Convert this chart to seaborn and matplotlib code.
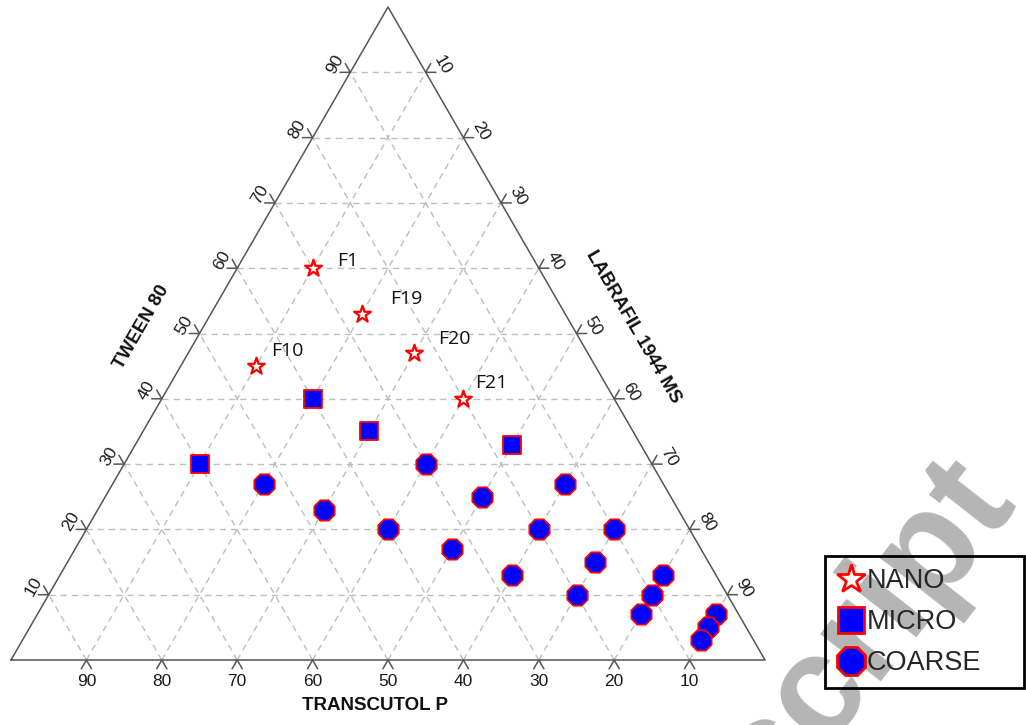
import numpy as np
import pandas as pd
import matplotlib
matplotlib.use("Agg")
import matplotlib.pyplot as plt
import seaborn as sns
from matplotlib.lines import Line2D

# ---- compositions (% w/w); Transcutol P is the remainder to 100 ----
nano_names = ["F1", "F19", "F20", "F10", "F21"]
nano_tween = [60, 53, 47, 45, 40]
nano_labrafil = [10, 20, 30, 10, 40]

micro_tween = [30, 40, 35, 33]
micro_labrafil = [10, 20, 30, 50]

coarse_tween = [27, 23, 20, 30, 25, 17, 20, 13, 27, 20, 15, 10, 13, 10, 7, 7, 5, 3]
coarse_labrafil = [20, 30, 40, 40, 50, 50, 60, 60, 60, 70, 70, 70, 80, 80, 80, 90, 90, 90]

grid_values = [10, 20, 30, 40, 50, 60, 70, 80, 90]
group_names = ["NANO", "MICRO", "COARSE"]

H = np.sqrt(3) / 2


def to_xy(tween, labrafil):
    t = np.asarray(tween, dtype=float)
    l = np.asarray(labrafil, dtype=float)
    return l + t / 2.0, t * H


frames = []
for name, tw, lb in [("NANO", nano_tween, nano_labrafil),
                     ("MICRO", micro_tween, micro_labrafil),
                     ("COARSE", coarse_tween, coarse_labrafil)]:
    x, y = to_xy(tw, lb)
    frames.append(pd.DataFrame({"x": x, "y": y, "group": name,
                                "tween": tw, "labrafil": lb}))
df = pd.concat(frames, ignore_index=True)
df["transcutol"] = 100 - df["tween"] - df["labrafil"]

# ---- figure: one unit of composition = PX pixels ----
W, HT, DPI = 1026, 725, 100
PX = 7.54
OX, OY = 11, 660
sns.set_theme(style="white")
plt.rcParams["font.family"] = ["Liberation Sans", "DejaVu Sans"]

fig = plt.figure(figsize=(W / DPI, HT / DPI), dpi=DPI)
fig.patch.set_facecolor("white")
ax = fig.add_axes([0, 0, 1, 1])
ax.set_xlim(-OX / PX, (W - OX) / PX)
ax.set_ylim(-(HT - OY) / PX, OY / PX)
ax.axis("off")


def p(dx_px, dy_px):
    """pixel offset (y downward) -> data offset"""
    return dx_px / PX, -dy_px / PX


grid_kw = dict(color="#bdbdbd", lw=1.0, ls=(0, (4.5, 3.5)), zorder=1)
edge_kw = dict(color="#555555", lw=1.1, zorder=2)
tick_len = 1.35

for v in grid_values:
    # constant Tween 80 (horizontal)
    xa, ya = to_xy(v, 0)
    xb, yb = to_xy(v, 100 - v)
    ax.plot([xa, xb], [ya, yb], **grid_kw)
    # constant Labrafil
    xa, ya = to_xy(0, v)
    xb, yb = to_xy(100 - v, v)
    ax.plot([xa, xb], [ya, yb], **grid_kw)
    # constant Transcutol
    xa, ya = to_xy(0, 100 - v)
    xb, yb = to_xy(100 - v, 0)
    ax.plot([xa, xb], [ya, yb], **grid_kw)

# triangle outline
corners_x, corners_y = to_xy([0, 0, 100, 0], [0, 100, 0, 0])
ax.plot(corners_x, corners_y, **edge_kw)

tick_fs = 12.5
for v in grid_values:
    # bottom axis: Transcutol P
    bx, by = to_xy(0, 100 - v)
    ax.plot([bx - tick_len * 0.5, bx, bx + tick_len * 0.5],
            [by - tick_len * H, by, by - tick_len * H], **edge_kw)
    dx, dy = p(0, 21)
    ax.text(bx + dx, by + dy, f"{v}", ha="center", va="center",
            fontsize=tick_fs, color="#1a1a1a")
    # left axis: Tween 80
    lx, ly = to_xy(v, 0)
    ax.plot([lx - tick_len, lx, lx - tick_len * 0.5],
            [ly, ly, ly + tick_len * H], **edge_kw)
    dx, dy = p(-15, -8)
    ax.text(lx + dx, ly + dy, f"{v}", ha="center", va="center",
            fontsize=tick_fs, rotation=60, color="#1a1a1a")
    # right axis: Labrafil 1944 MS
    rx, ry = to_xy(100 - v, v)
    ax.plot([rx + tick_len, rx, rx + tick_len * 0.5],
            [ry, ry, ry + tick_len * H], **edge_kw)
    dx, dy = p(17, -7)
    ax.text(rx + dx, ry + dy, f"{v}", ha="center", va="center",
            fontsize=tick_fs, rotation=-60, color="#1a1a1a")

# axis titles
title_kw = dict(fontsize=13.5, fontweight="bold", color="#111111",
                ha="center", va="center")
ax.text((142 - OX) / PX, (OY - 327) / PX, "TWEEN 80", rotation=60, **title_kw)
ax.text((633 - OX) / PX, (OY - 327) / PX, "LABRAFIL 1944 MS", rotation=-60, **title_kw)
ax.text((375 - OX) / PX, (OY - 706) / PX, "TRANSCUTOL P", **title_kw)

# ---- data points ----
nano = df[df.group == "NANO"]
micro = df[df.group == "MICRO"]
coarse = df[df.group == "COARSE"]

sns.scatterplot(data=coarse, x="x", y="y", marker="8", s=250,
                color="#0000ff", edgecolor="#ff0000", linewidth=1.3,
                ax=ax, zorder=4, legend=False)
sns.scatterplot(data=micro, x="x", y="y", marker="s", s=180,
                color="#0000ff", edgecolor="#ff0000", linewidth=1.3,
                ax=ax, zorder=4, legend=False)
sns.scatterplot(data=nano, x="x", y="y", marker="*", s=160,
                color="white", edgecolor="#ff0000", linewidth=1.6,
                ax=ax, zorder=4, legend=False)

# formulation labels
label_offsets = {"F1": (25, -7), "F19": (29, -15), "F20": (24, -14),
                 "F10": (15, -15), "F21": (12, -16)}
for name, (_, row) in zip(nano_names, nano.iterrows()):
    ox, oy = label_offsets[name]
    ax.annotate(name, (row.x, row.y), xytext=(ox * 72 / DPI, -oy * 72 / DPI),
                textcoords="offset points", ha="left", va="center",
                fontsize=14, family=["Open Sans", "DejaVu Sans"],
                color="#111111", zorder=5)

# watermark
ax.text((867 - OX) / PX, (OY - 632) / PX, "script", rotation=52,
        rotation_mode="anchor", ha="center", va="center", fontsize=104,
        fontweight="bold", color="#b5b5b5", zorder=0.5, clip_on=False)

# legend
handles = [
    Line2D([], [], ls="none", marker="*", markersize=21, markerfacecolor="white",
           markeredgecolor="#ff0000", markeredgewidth=2),
    Line2D([], [], ls="none", marker="s", markersize=19, markerfacecolor="#0000ff",
           markeredgecolor="#ff0000", markeredgewidth=2),
    Line2D([], [], ls="none", marker="8", markersize=22, markerfacecolor="#0000ff",
           markeredgecolor="#ff0000", markeredgewidth=2),
]
leg = ax.legend(handles, group_names, loc="upper left", mode="expand",
                bbox_to_anchor=(825 / W, 1 - 687 / HT, 199 / W, 131 / HT),
                bbox_transform=fig.transFigure,
                frameon=True, fancybox=False, framealpha=1, facecolor="none",
                edgecolor="black", fontsize=19.5, handlelength=1.0,
                handletextpad=0.1, labelspacing=0.55, borderpad=0.45,
                borderaxespad=0)
leg.get_frame().set_linewidth(2)
leg.set_zorder(6)

fig.savefig("out.png", dpi=DPI, facecolor="white")
